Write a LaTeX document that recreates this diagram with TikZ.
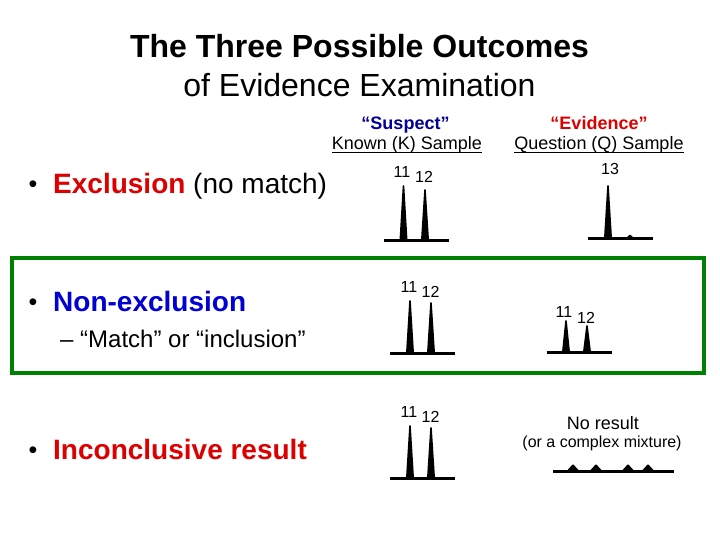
\documentclass[tikz,border=0pt]{standalone}
\usepackage{fontspec}
\setmainfont{Liberation Sans}
\usetikzlibrary{calc}
\definecolor{myred}{RGB}{220,0,0}
\definecolor{myblue}{RGB}{0,0,210}
\definecolor{mynavy}{RGB}{0,0,150}
\definecolor{boxgreen}{RGB}{0,128,0}
\newcommand\pk[3]{\filldraw[line width=1.6pt, line join=round] ({#1-3.2},#3) -- (#1,#2) -- ({#1+3.2},#3) -- cycle;}
\newcommand\bump[2]{\filldraw[line width=2pt, line join=round] ({#1-5},#2) -- (#1,{#2-5.5}) -- ({#1+5},#2) -- cycle;}
\tikzset{
  txt/.style={inner sep=0pt, anchor=base},
  titlef/.style={txt, font=\fontsize{32}{38}\selectfont},
  hdr/.style={txt, font=\fontsize{18}{22}\selectfont},
  bul/.style={inner sep=0pt, anchor=base west, font=\fontsize{28}{34}\selectfont},
  dot/.style={inner sep=0pt, anchor=base, font=\fontsize{25}{30}\selectfont},
  lbl/.style={txt, font=\fontsize{16}{19}\selectfont},
  trace/.style={line width=3pt},
  uline/.style={line width=1.2pt},
}
\begin{document}
\begin{tikzpicture}[x=1pt,y=-1pt]
\useasboundingbox (0,0) rectangle (720,540);
% title
\node[titlef, font=\fontsize{32}{38}\selectfont\bfseries] (t1) at (359.5,58) {The Three Possible Outcomes};
\node[titlef] (t2) at (359.5,97) {of Evidence Examination};
% headers
\node[hdr, text=mynavy, font=\fontsize{18}{22}\selectfont\bfseries] (s1) at (405.5,130) {“Suspect”};
\node[hdr] (s2) at (407,150) {Known (K) Sample};
\draw[uline] ($(s2.base west)+(0,2.8)$) -- ($(s2.base east)+(0,2.8)$);
\node[hdr, text=myred, font=\fontsize{18}{22}\selectfont\bfseries] (e1) at (599,130) {“Evidence”};
\node[hdr] (e2) at (599,150) {Question (Q) Sample};
\draw[uline] ($(e2.base west)+(0,2.8)$) -- ($(e2.base east)+(0,2.8)$);
% bullets
\node[dot] (b1) at (33,193) {•};
\node[bul] (ex) at (53,194) {\textcolor{myred}{\bfseries Exclusion} (no match)};
\node[dot] (b2) at (33,310) {•};
\node[bul, text=myblue, font=\fontsize{28}{34}\selectfont\bfseries] (ne) at (53,311) {Non-exclusion};
\node[bul, font=\fontsize{24}{29}\selectfont] (mt) at (60,347) {–\ “Match” or “inclusion”};
\node[dot] (b3) at (33,458) {•};
\node[bul, text=myred, font=\fontsize{28}{34}\selectfont\bfseries] (in) at (53,459) {Inconclusive result};
% green box
\draw[boxgreen, line width=4pt] (12,258) rectangle (704,373);
% exclusion known
\draw[trace] (384,240) -- (449,240);
\pk{403.5}{186}{240}\pk{425}{190}{240}
\node[lbl] (x11) at (402,178) {11};
\node[lbl] (x12) at (424,183) {12};
% exclusion evidence
\draw[trace] (588,238) -- (653,238);
\pk{608}{186}{238}
\draw[line width=1.5pt, line join=round] (627,238) -- (630,235.5) -- (633,238);
\node[lbl] (x13) at (610,175) {13};
% non-exclusion known
\draw[trace] (390,353) -- (455,353);
\pk{410}{301}{353}\pk{431}{303}{353}
\node[lbl] (n11) at (409,292) {11};
\node[lbl] (n12) at (430.5,297) {12};
% non-exclusion evidence
\draw[trace] (547,352) -- (612,352);
\pk{566}{321}{352}\pk{587}{326}{352}
\node[lbl] (m11) at (564,317) {11};
\node[lbl] (m12) at (586,323) {12};
% inconclusive known
\draw[trace] (390,478) -- (455,478);
\pk{410}{426}{478}\pk{431}{428}{478}
\node[lbl] (i11) at (409,417) {11};
\node[lbl] (i12) at (430.5,422) {12};
% no result
\node[hdr] (nr) at (603,429) {No result};
\node[txt, font=\fontsize{16}{19}\selectfont] (cm) at (602,447) {(or a complex mixture)};
\draw[trace] (553,471) -- (674,471);
\bump{573}{471}\bump{596}{471}\bump{628}{471}\bump{648}{471}
\end{tikzpicture}
\end{document}
